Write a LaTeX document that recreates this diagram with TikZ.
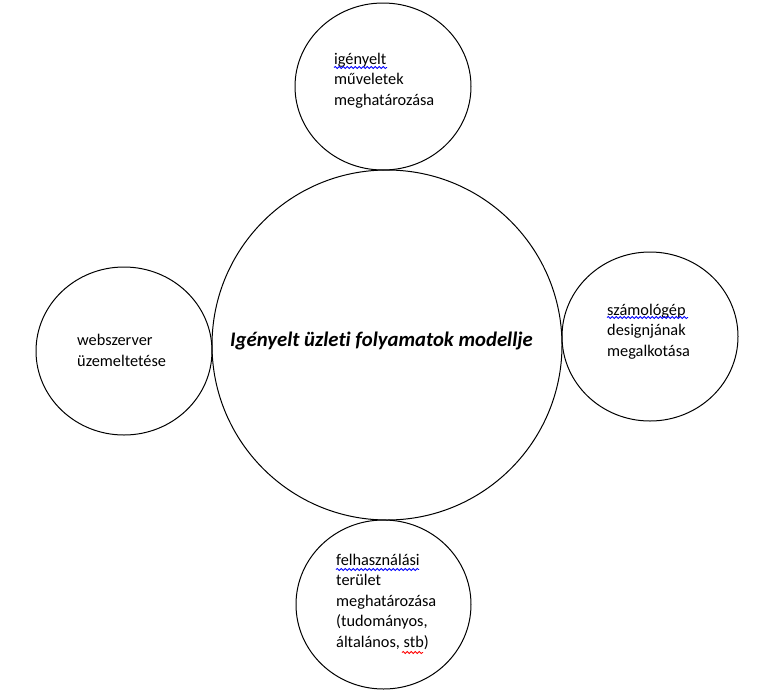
\documentclass[tikz,border=0pt]{standalone}
\usepackage{fontspec}
\setmainfont{Carlito}[Ligatures={NoCommon}]
\usetikzlibrary{decorations.pathmorphing}
\begin{document}
\begin{tikzpicture}[x=1pt,y=-1pt,
  bubble/.style={draw=black,line width=1pt},
  lbl/.style={anchor=base west,inner sep=0pt,align=left,font=\fontsize{16.3}{20.5}\selectfont},
  title/.style={anchor=base west,inner sep=0pt,font=\fontsize{20.7}{24}\selectfont\bfseries\itshape},
  squig/.style={line width=0.8pt,decorate,decoration={snake,segment length=4pt,amplitude=1.1pt}}]
\useasboundingbox (0,0) rectangle (779,694);
\draw[bubble] (387,345) circle (175);
\draw[bubble] (383,86.5) ellipse (88 and 83.5);
\draw[bubble] (383.5,604.5) ellipse (87.5 and 84.5);
\draw[bubble] (124,351) ellipse (88 and 84);
\draw[bubble] (650,336.5) ellipse (88 and 84.5);
\node[title] (t) at (230,346) {Igényelt üzleti folyamatok modellje};
\node[lbl] (top) at (334,105) {igényelt\\műveletek\\meghatározása};
\node[lbl] (bot) at (336,647) {felhasználási\\terület\\meghatározása\\(tudományos,\\általános, stb)};
\node[lbl] (lft) at (77,366) {webszerver\\üzemeltetése};
\node[lbl] (rgt) at (607,356) {számológép\\designjának\\megalkotása};
\coordinate (u1a) at (334,67.5); \coordinate (u1b) at (387,67.5);
\coordinate (u2a) at (336,569.5); \coordinate (u2b) at (419,569.5);
\coordinate (u3a) at (402,652.5); \coordinate (u3b) at (423,652.5);
\coordinate (u4a) at (607,317.5); \coordinate (u4b) at (688,317.5);
\draw[squig,blue] (u1a) -- (u1b);
\draw[squig,blue] (u2a) -- (u2b);
\draw[squig,red] (u3a) -- (u3b);
\draw[squig,blue] (u4a) -- (u4b);
\end{tikzpicture}
\end{document}
